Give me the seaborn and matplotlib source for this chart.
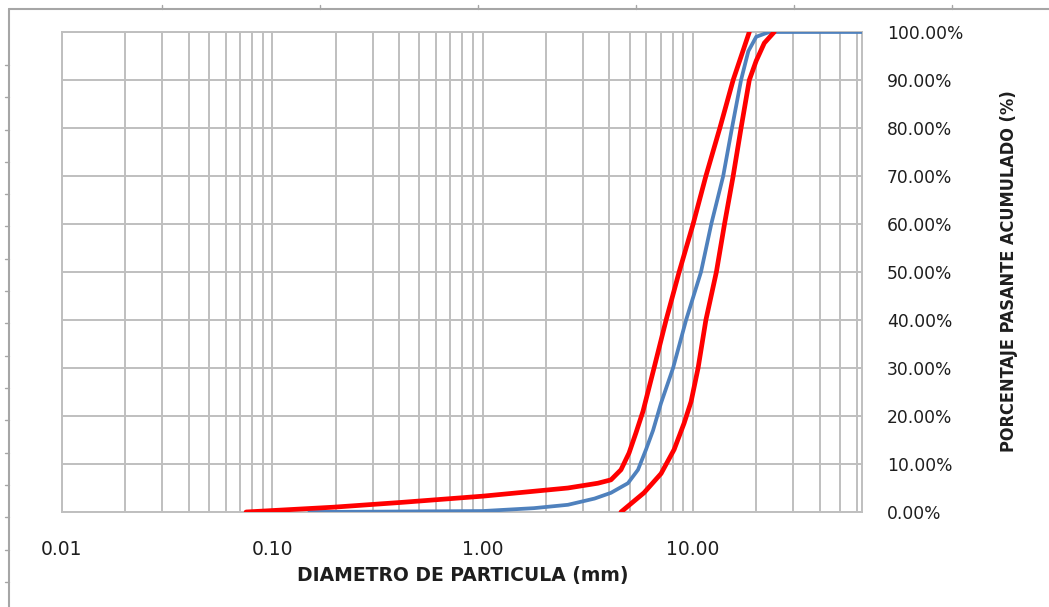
import matplotlib
matplotlib.use("Agg")
import matplotlib.pyplot as plt
import seaborn as sns
import pandas as pd
import numpy as np
from matplotlib.ticker import LogLocator, FuncFormatter, NullFormatter
from matplotlib.lines import Line2D
from matplotlib import font_manager

# Grading curves: particle diameter (mm) vs cumulative passing (%)
upper_mm = [0.075, 0.195, 0.41, 1.0, 2.54, 3.53, 4.07, 4.54, 4.96, 5.35, 5.78,
            6.52, 7.44, 8.58, 10.0, 11.5, 13.4, 15.5, 18.5]
upper_pct = [0.0, 1.0, 2.0, 3.3, 5.0, 6.0, 6.7, 8.8, 12.3, 16.5, 21.0,
             30.0, 40.0, 50.0, 60.0, 70.0, 80.0, 90.0, 100.0]

sample_mm = [0.15, 1.0, 1.75, 2.54, 3.4, 4.07, 4.9, 5.47, 5.97, 6.45, 7.04,
             8.03, 9.26, 10.9, 12.2, 13.9, 15.3, 16.9, 18.3, 19.95, 23.0, 63.5]
sample_pct = [0.0, 0.2, 0.8, 1.5, 2.8, 4.0, 6.0, 8.8, 13.0, 17.0, 22.7,
              30.0, 40.0, 50.0, 60.0, 70.0, 80.0, 90.0, 96.0, 99.0, 100.0, 100.0]

lower_mm = [4.54, 5.84, 7.04, 8.12, 9.06, 9.78, 10.56, 11.5, 12.9, 14.1,
            15.5, 16.9, 18.5, 19.95, 21.8, 24.3]
lower_pct = [0.0, 4.0, 8.0, 13.0, 18.5, 23.0, 30.0, 40.0, 50.0, 60.0,
             70.0, 80.0, 90.0, 94.0, 97.7, 100.0]

major_ticks = [0.01, 0.1, 1.0, 10.0]
major_labels = ["0.01", "0.10", "1.00", "10.00"]
y_ticks = list(range(0, 101, 10))

sns.set_style("white")
plt.rcParams["font.family"] = ["DejaVu Sans"]

# Condensed face for the vertical axis title when one is installed
has_condensed = any(f.name == "DejaVu Sans" and "condensed" in str(f.stretch)
                    for f in font_manager.fontManager.ttflist)
ylab_kw = dict(fontstretch="condensed", fontsize=13) if has_condensed else dict(fontsize=11.5)

W, H = 1049, 607
fig = plt.figure(figsize=(W / 100, H / 100), dpi=100)
ax = fig.add_axes([62 / W, 1 - 512 / H, 800 / W, 480 / H])

grid_c = "#bfbfbf"
red = "#ff0000"
blue = "#4f81bd"

upper = pd.DataFrame({"d": upper_mm, "p": upper_pct})
sample = pd.DataFrame({"d": sample_mm, "p": sample_pct})
lower = pd.DataFrame({"d": lower_mm, "p": lower_pct})

sns.lineplot(data=sample, x="d", y="p", ax=ax, color=blue, lw=2.7,
             sort=False, estimator=None, zorder=3)
sns.lineplot(data=upper, x="d", y="p", ax=ax, color=red, lw=3.4,
             sort=False, estimator=None, zorder=4)
sns.lineplot(data=lower, x="d", y="p", ax=ax, color=red, lw=3.4,
             sort=False, estimator=None, zorder=4)

ax.set_xscale("log")
ax.set_xlim(0.01, 63.5)
ax.set_ylim(0, 100)

ax.xaxis.set_minor_locator(LogLocator(base=10, subs=np.arange(2, 10), numticks=20))
ax.xaxis.set_minor_formatter(NullFormatter())
ax.set_xticks(major_ticks)
ax.set_xticklabels(major_labels)

ax.set_yticks(y_ticks)
ax.yaxis.set_major_formatter(FuncFormatter(lambda v, p: f"{v:.2f}%"))
ax.yaxis.tick_right()

ax.grid(True, which="both", axis="x", color=grid_c, lw=1.4)
ax.grid(True, which="major", axis="y", color=grid_c, lw=1.4)
ax.set_axisbelow(True)

text_c = "#1e1e1e"
ax.tick_params(axis="x", which="both", length=0, pad=20, labelsize=13.5, colors=text_c)
ax.tick_params(axis="y", which="both", length=0, pad=18, labelsize=12.3, colors=text_c)
for s in ax.spines.values():
    s.set_color(grid_c)
    s.set_linewidth(1.4)

ax.set_xlabel("")
ax.set_ylabel("")

fig.text(463 / W, 1 - 576 / H, "DIAMETRO DE PARTICULA (mm)", ha="center", va="center",
         fontsize=13.5, fontweight="bold", color=text_c)
fig.text(1009 / W, 1 - 271 / H, "PORCENTAJE PASANTE ACUMULADO (%)", ha="center", va="center",
         rotation=90, fontweight="bold", color=text_c, **ylab_kw)

# Outer chart frame with small ruler marks
frame_c = "#a6a6a6"
fig.add_artist(Line2D([9 / W, 1.0], [1 - 9 / H, 1 - 9 / H], transform=fig.transFigure, color=frame_c, lw=1.5))
fig.add_artist(Line2D([9 / W, 9 / W], [0.0, 1 - 9 / H], transform=fig.transFigure, color=frame_c, lw=1.5))
for yp in np.arange(65, H, 32.3):
    fig.add_artist(Line2D([5 / W, 9 / W], [1 - yp / H, 1 - yp / H], transform=fig.transFigure, color=frame_c, lw=1))
for xp in np.arange(162, W, 158):
    fig.add_artist(Line2D([xp / W, xp / W], [1 - 5 / H, 1 - 9 / H], transform=fig.transFigure, color=frame_c, lw=1))

fig.savefig("out.png", dpi=100, facecolor="white")
